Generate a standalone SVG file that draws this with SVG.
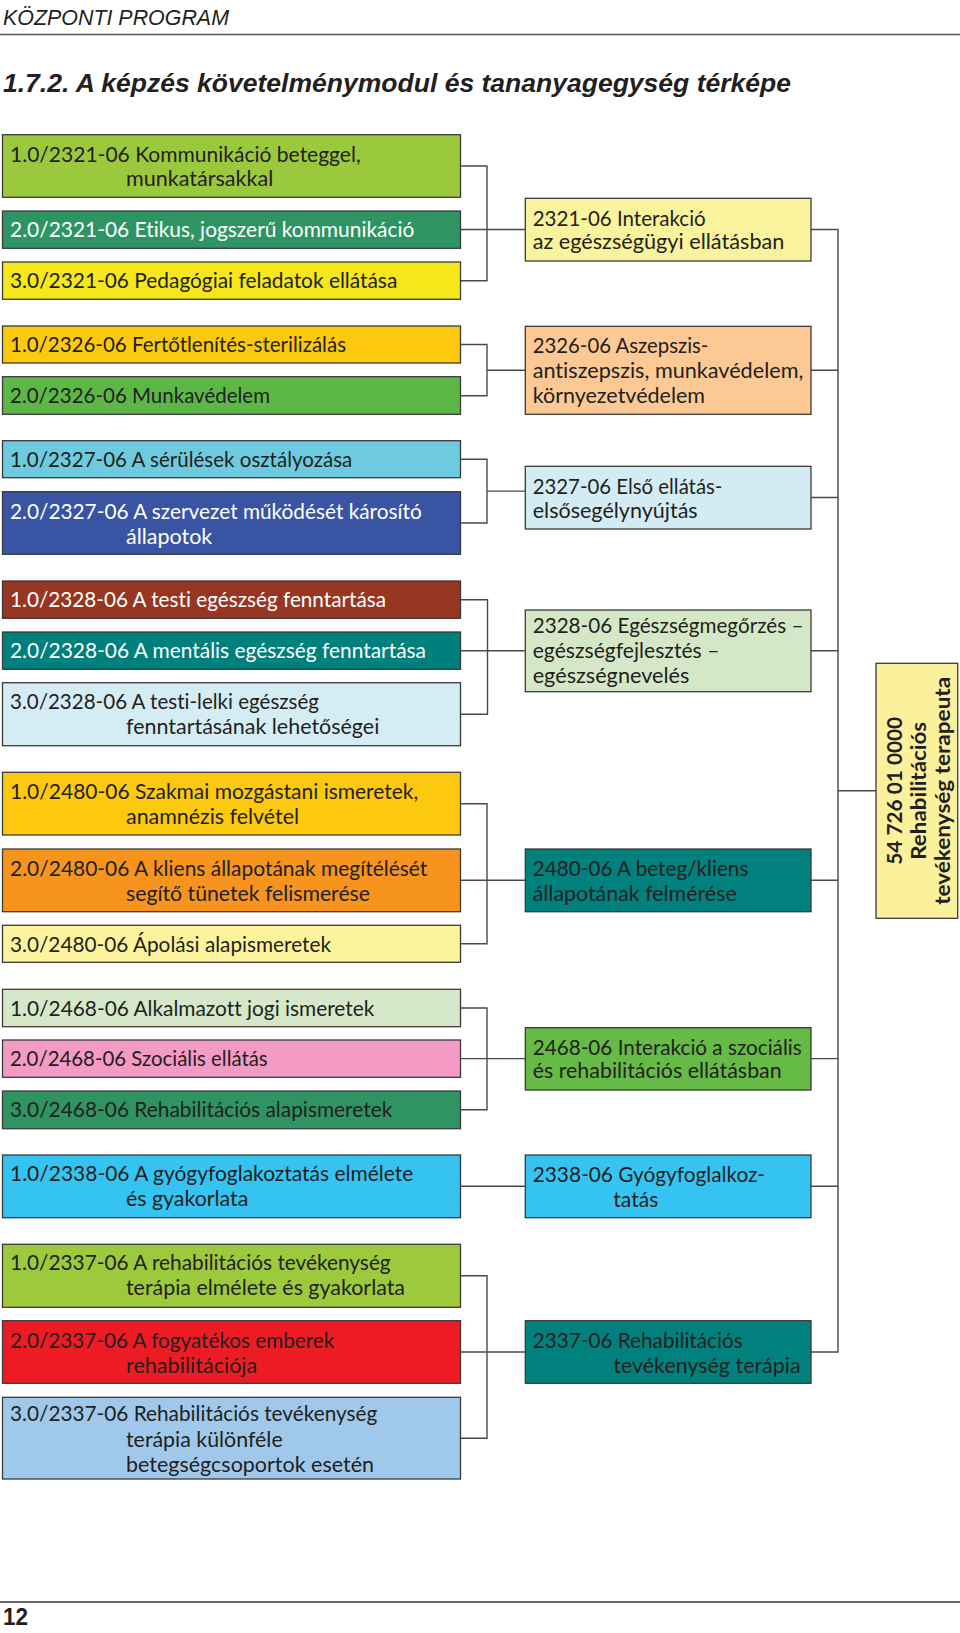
<svg xmlns="http://www.w3.org/2000/svg" width="960" height="1633" viewBox="0 0 960 1633">
<style>
.bx{stroke:#3a3a3a;stroke-width:1.3}
.t{font-family:Lato,"Open Sans",sans-serif;font-size:20.5px;fill:#231f20;font-variant-ligatures:none;font-feature-settings:"liga" 0,"clig" 0}
.w{fill:#ffffff}
.c{fill:none;stroke:#4a4a4a;stroke-width:1.4}
.hd{font-family:"Liberation Sans",Arial,sans-serif;fill:#231f20}
.fb{font-family:Lato,"Open Sans",sans-serif;font-size:21px;font-weight:bold;fill:#231f20;font-variant-ligatures:none;font-feature-settings:"liga" 0,"clig" 0}
</style>
<rect x="0" y="0" width="960" height="1633" fill="#ffffff"/>
<g id="header">
<text class="hd" x="3" y="25" font-size="22" font-style="italic" textLength="226" lengthAdjust="spacingAndGlyphs">KÖZPONTI PROGRAM</text>
<line x1="0" y1="34.5" x2="960" y2="34.5" stroke="#555" stroke-width="1.5"/>
<text class="hd" x="3" y="92" font-size="25.5" font-style="italic" font-weight="bold" textLength="788" lengthAdjust="spacingAndGlyphs">1.7.2. A képzés követelménymodul és tananyagegység térképe</text>
</g>
<g id="footer">
<line x1="0" y1="1602" x2="960" y2="1602" stroke="#666" stroke-width="2"/>
<text class="hd" x="3" y="1625" font-size="24" font-weight="bold" textLength="25" lengthAdjust="spacingAndGlyphs">12</text>
</g>
<g id="connectors">
<path class="c" d="M460.5 166H487V280.7H460.5M460.5 229.5H525.5"/>
<path class="c" d="M460.5 344.5H487V395.7H460.5M487 370.3H525.5"/>
<path class="c" d="M460.5 459.2H487V523H460.5M487 491.1H525.5"/>
<path class="c" d="M460.5 599.7H487.5V714.2H460.5M460.5 650.7H525.5"/>
<path class="c" d="M460.5 803.7H487V943.8H460.5M460.5 880.3H525.5"/>
<path class="c" d="M460.5 1008H487V1109.8H460.5M460.5 1058.6H525.5"/>
<path class="c" d="M460.5 1186.3H525.5"/>
<path class="c" d="M460.5 1275.8H487V1438.2H460.5M460.5 1352H525.5"/>
<path class="c" d="M811 229.5H838V1352H811M811 370.3H838M811 497.5H838M811 650.7H838M811 880.3H838M811 1058.6H838M811 1186.3H838M838 790.7H876"/>
</g>
<g id="n-2321-1"><rect class="bx" x="2.5" y="134.7" width="458" height="62.6" fill="#9bc93d"/><text class="t" x="10" y="161.7" textLength="350.7" lengthAdjust="spacingAndGlyphs">1.0/2321-06 Kommunikáció beteggel,</text><text class="t" x="126" y="186" textLength="147.3" lengthAdjust="spacingAndGlyphs">munkatársakkal</text></g>
<g id="n-2321-2"><rect class="bx" x="2.5" y="211" width="458" height="37.3" fill="#2f9464"/><text class="t w" x="10" y="237.3" textLength="404.3" lengthAdjust="spacingAndGlyphs">2.0/2321-06 Etikus, jogszerű kommunikáció</text></g>
<g id="n-2321-3"><rect class="bx" x="2.5" y="262" width="458" height="37.3" fill="#f6e71c"/><text class="t" x="10" y="288.3" textLength="387.3" lengthAdjust="spacingAndGlyphs">3.0/2321-06 Pedagógiai feladatok ellátása</text></g>
<g id="n-2326-1"><rect class="bx" x="2.5" y="326" width="458" height="37" fill="#fdc90c"/><text class="t" x="10" y="352" textLength="336" lengthAdjust="spacingAndGlyphs">1.0/2326-06 Fertőtlenítés-sterilizálás</text></g>
<g id="n-2326-2"><rect class="bx" x="2.5" y="376.7" width="458" height="37.6" fill="#5cb747"/><text class="t" x="10" y="402.8" textLength="260" lengthAdjust="spacingAndGlyphs">2.0/2326-06 Munkavédelem</text></g>
<g id="n-2327-1"><rect class="bx" x="2.5" y="440.7" width="458" height="37" fill="#6ecbdf"/><text class="t" x="10" y="466.7" textLength="342.3" lengthAdjust="spacingAndGlyphs">1.0/2327-06 A sérülések osztályozása</text></g>
<g id="n-2327-2"><rect class="bx" x="2.5" y="491.7" width="458" height="62.6" fill="#3a54a4"/><text class="t w" x="10" y="519.3" textLength="411.7" lengthAdjust="spacingAndGlyphs">2.0/2327-06 A szervezet működését károsító</text><text class="t w" x="126" y="544" textLength="86.3" lengthAdjust="spacingAndGlyphs">állapotok</text></g>
<g id="n-2328-1"><rect class="bx" x="2.5" y="581" width="458" height="37.3" fill="#973622"/><text class="t w" x="10" y="606.8" textLength="376" lengthAdjust="spacingAndGlyphs">1.0/2328-06 A testi egészség fenntartása</text></g>
<g id="n-2328-2"><rect class="bx" x="2.5" y="632" width="458" height="37.3" fill="#00807c"/><text class="t w" x="10" y="658.2" textLength="416" lengthAdjust="spacingAndGlyphs">2.0/2328-06 A mentális egészség fenntartása</text></g>
<g id="n-2328-3"><rect class="bx" x="2.5" y="682.7" width="458" height="63" fill="#d4ecf4"/><text class="t" x="10" y="709.3" textLength="309" lengthAdjust="spacingAndGlyphs">3.0/2328-06 A testi-lelki egészség</text><text class="t" x="126" y="733.5" textLength="253.3" lengthAdjust="spacingAndGlyphs">fenntartásának lehetőségei</text></g>
<g id="n-2480-1"><rect class="bx" x="2.5" y="772.3" width="458" height="62.7" fill="#fdc90f"/><text class="t" x="10" y="799.3" textLength="408.3" lengthAdjust="spacingAndGlyphs">1.0/2480-06 Szakmai mozgástani ismeretek,</text><text class="t" x="126" y="823.8" textLength="173" lengthAdjust="spacingAndGlyphs">anamnézis felvétel</text></g>
<g id="n-2480-2"><rect class="bx" x="2.5" y="849" width="458" height="62.7" fill="#f7941e"/><text class="t" x="10" y="876" textLength="417.3" lengthAdjust="spacingAndGlyphs">2.0/2480-06 A kliens állapotának megítélését</text><text class="t" x="126" y="900.6" textLength="244" lengthAdjust="spacingAndGlyphs">segítő tünetek felismerése</text></g>
<g id="n-2480-3"><rect class="bx" x="2.5" y="925.3" width="458" height="37" fill="#fbf49d"/><text class="t" x="10" y="951.8" textLength="321" lengthAdjust="spacingAndGlyphs">3.0/2480-06 Ápolási alapismeretek</text></g>
<g id="n-2468-1"><rect class="bx" x="2.5" y="989.3" width="458" height="37.4" fill="#d5e8c9"/><text class="t" x="10" y="1015.7" textLength="364.3" lengthAdjust="spacingAndGlyphs">1.0/2468-06 Alkalmazott jogi ismeretek</text></g>
<g id="n-2468-2"><rect class="bx" x="2.5" y="1040" width="458" height="37.3" fill="#f39bc5"/><text class="t" x="10" y="1066.2" textLength="257.7" lengthAdjust="spacingAndGlyphs">2.0/2468-06 Szociális ellátás</text></g>
<g id="n-2468-3"><rect class="bx" x="2.5" y="1091" width="458" height="37.7" fill="#2f9462"/><text class="t" x="10" y="1117.3" textLength="382.3" lengthAdjust="spacingAndGlyphs">3.0/2468-06 Rehabilitációs alapismeretek</text></g>
<g id="n-2338-1"><rect class="bx" x="2.5" y="1155" width="458" height="62.7" fill="#35c3f1"/><text class="t" x="10" y="1180.8" textLength="403.3" lengthAdjust="spacingAndGlyphs">1.0/2338-06 A gyógyfoglakoztatás elmélete</text><text class="t" x="126" y="1205.6" textLength="122.3" lengthAdjust="spacingAndGlyphs">és gyakorlata</text></g>
<g id="n-2337-1"><rect class="bx" x="2.5" y="1244.3" width="458" height="63" fill="#9dc93c"/><text class="t" x="10" y="1270.3" textLength="380.7" lengthAdjust="spacingAndGlyphs">1.0/2337-06 A rehabilitációs tevékenység</text><text class="t" x="126" y="1295" textLength="279" lengthAdjust="spacingAndGlyphs">terápia elmélete és gyakorlata</text></g>
<g id="n-2337-2"><rect class="bx" x="2.5" y="1320.7" width="458" height="62.6" fill="#ed1c24"/><text class="t" x="10" y="1348.3" textLength="324.3" lengthAdjust="spacingAndGlyphs">2.0/2337-06 A fogyatékos emberek</text><text class="t" x="126" y="1372.7" textLength="131.3" lengthAdjust="spacingAndGlyphs">rehabilitációja</text></g>
<g id="n-2337-3"><rect class="bx" x="2.5" y="1397.3" width="458" height="81.7" fill="#9fc8ea"/><text class="t" x="10" y="1420.7" textLength="367.3" lengthAdjust="spacingAndGlyphs">3.0/2337-06 Rehabilitációs tevékenység</text><text class="t" x="126" y="1446.5" textLength="156.7" lengthAdjust="spacingAndGlyphs">terápia különféle</text><text class="t" x="126" y="1471.7" textLength="248" lengthAdjust="spacingAndGlyphs">betegségcsoportok esetén</text></g>
<g id="m-2321"><rect class="bx" x="525.3" y="198.3" width="285.7" height="62.7" fill="#faf39d"/><text class="t" x="532.7" y="226" textLength="173" lengthAdjust="spacingAndGlyphs">2321-06 Interakció</text><text class="t" x="532.7" y="249.3" textLength="251.7" lengthAdjust="spacingAndGlyphs">az egészségügyi ellátásban</text></g>
<g id="m-2326"><rect class="bx" x="525.3" y="326.3" width="285.7" height="88" fill="#fcc994"/><text class="t" x="532.7" y="353.3" textLength="175.7" lengthAdjust="spacingAndGlyphs">2326-06 Aszepszis-</text><text class="t" x="532.7" y="378.3" textLength="270.7" lengthAdjust="spacingAndGlyphs">antiszepszis, munkavédelem,</text><text class="t" x="532.7" y="403.3" textLength="172.3" lengthAdjust="spacingAndGlyphs">környezetvédelem</text></g>
<g id="m-2327"><rect class="bx" x="525.3" y="466.3" width="285.7" height="62.7" fill="#d3ecf4"/><text class="t" x="532.7" y="494" textLength="189.7" lengthAdjust="spacingAndGlyphs">2327-06 Első ellátás-</text><text class="t" x="532.7" y="518" textLength="165" lengthAdjust="spacingAndGlyphs">elsősegélynyújtás</text></g>
<g id="m-2328"><rect class="bx" x="525.3" y="610" width="285.7" height="81.7" fill="#d4e8c7"/><text class="t" x="532.7" y="633.3" textLength="270.7" lengthAdjust="spacingAndGlyphs">2328-06 Egészségmegőrzés –</text><text class="t" x="532.7" y="658.3" textLength="186.7" lengthAdjust="spacingAndGlyphs">egészségfejlesztés –</text><text class="t" x="532.7" y="683.3" textLength="156.7" lengthAdjust="spacingAndGlyphs">egészségnevelés</text></g>
<g id="m-2480"><rect class="bx" x="525.3" y="849" width="285.7" height="62.7" fill="#00817e"/><text class="t" x="532.7" y="876" textLength="215.7" lengthAdjust="spacingAndGlyphs">2480-06 A beteg/kliens</text><text class="t" x="532.7" y="900.7" textLength="204" lengthAdjust="spacingAndGlyphs">állapotának felmérése</text></g>
<g id="m-2468"><rect class="bx" x="525.3" y="1027.7" width="285.7" height="62.3" fill="#66ba46"/><text class="t" x="532.7" y="1055" textLength="269" lengthAdjust="spacingAndGlyphs">2468-06 Interakció a szociális</text><text class="t" x="532.7" y="1078.3" textLength="249" lengthAdjust="spacingAndGlyphs">és rehabilitációs ellátásban</text></g>
<g id="m-2338"><rect class="bx" x="525.3" y="1155" width="285.7" height="62.7" fill="#35c4f2"/><text class="t" x="532.7" y="1181.7" textLength="232.3" lengthAdjust="spacingAndGlyphs">2338-06 Gyógyfoglalkoz-</text><text class="t" x="613.3" y="1206.7" textLength="45" lengthAdjust="spacingAndGlyphs">tatás</text></g>
<g id="m-2337"><rect class="bx" x="525.3" y="1320.7" width="285.7" height="62.6" fill="#00817e"/><text class="t" x="532.7" y="1348.3" textLength="210" lengthAdjust="spacingAndGlyphs">2337-06 Rehabilitációs</text><text class="t" x="613.3" y="1372.7" textLength="187.3" lengthAdjust="spacingAndGlyphs">tevékenység terápia</text></g>
<g id="final"><rect class="bx" x="876" y="663.3" width="81.7" height="255" fill="#fbf19d"/><text class="fb" transform="translate(901.7,790.8) rotate(-90)" x="0" y="0" text-anchor="middle" textLength="148" lengthAdjust="spacingAndGlyphs">54 726 01 0000</text><text class="fb" transform="translate(925.5,790.8) rotate(-90)" x="0" y="0" text-anchor="middle" textLength="138" lengthAdjust="spacingAndGlyphs">Rehabilitációs</text><text class="fb" transform="translate(950,790.8) rotate(-90)" x="0" y="0" text-anchor="middle" textLength="228" lengthAdjust="spacingAndGlyphs">tevékenység terapeuta</text></g>
</svg>
